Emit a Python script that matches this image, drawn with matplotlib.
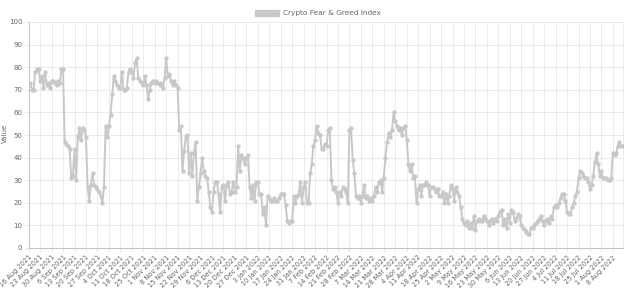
import matplotlib
matplotlib.use("Agg")
import matplotlib.pyplot as plt
from matplotlib.patches import Patch
import numpy as np
import pandas as pd

start_date = "2021-08-16"
series_name = "Crypto Fear & Greed Index"

values = [
    # 16 Aug - 6 Sep 2021
    72, 73, 70, 70, 78, 79, 79, 74, 76, 71, 78, 72, 73, 71, 74, 74, 73, 72, 74, 73, 79, 79,
    # 7 Sep - 20 Sep
    47, 46, 45, 44, 31, 32, 44, 30, 49, 53, 48, 53, 52, 49,
    # 21 Sep - 1 Oct
    27, 21, 28, 33, 28, 27, 26, 25, 23, 20, 27,
    # 2 Oct - 24 Oct
    54, 49, 54, 59, 68, 76, 74, 72, 71, 71, 78, 70, 70, 71, 78, 79, 78, 75, 82, 84, 75, 74, 73,
    # 25 Oct - 15 Nov
    72, 76, 72, 66, 70, 73, 74, 73, 74, 73, 72, 73, 71, 75, 84, 76, 77, 74, 72, 74, 72, 71,
    # 16 Nov - 27 Nov
    52, 54, 34, 43, 49, 50, 33, 42, 32, 42, 47, 21,
    # 28 Nov - 21 Dec
    27, 33, 40, 34, 32, 31, 25, 18, 16, 25, 29, 29, 24, 16, 27, 28, 21, 28, 29, 24, 25, 29, 25, 27,
    # 22 Dec - 28 Dec
    45, 34, 41, 40, 37, 40, 41,
    # 29 Dec - 8 Jan 2022
    27, 22, 28, 21, 29, 29, 24, 24, 15, 18, 10,
    # 9 Jan - 8 Feb
    23, 22, 21, 21, 22, 21, 21, 22, 24, 24, 24, 19, 12, 11, 12, 12, 23, 20, 23, 24,
    29, 20, 27, 29, 20, 20, 33, 37, 45, 48, 54,
    # 9 Feb - 12 Feb
    51, 50, 44, 44,
    # 13 Feb - 15 Apr
    46, 45, 52, 53, 30, 26, 27, 25, 20, 25, 23, 27, 26, 25, 20, 52, 53, 39, 33, 23,
    22, 23, 20, 23, 28, 22, 23, 21, 22, 21, 23, 27, 25, 29, 30, 25, 31, 40, 47, 51,
    49, 52, 60, 56, 54, 52, 53, 50, 53, 54, 48, 37, 34, 37, 31, 32, 20, 26, 28, 23,
    28, 28,
    # 16 Apr - 18 Jun
    29, 28, 23, 27, 27, 26, 25, 26, 23, 23, 25, 20, 24, 20, 23, 28, 26, 21, 27, 25,
    23, 18, 13, 11, 10, 12, 9, 11, 9, 14, 8, 12, 13, 12, 12, 14, 13, 12, 10, 12,
    13, 11, 13, 12, 14, 16, 17, 10, 13, 9, 15, 11, 17, 16, 12, 13, 15, 14, 10, 9,
    8, 7, 6, 6,
    # 19 Jun - 14 Aug
    9, 9, 10, 11, 12, 13, 14, 12, 10, 12, 13, 11, 14, 13, 18, 19, 18, 20, 22, 24,
    24, 21, 16, 15, 15, 18, 20, 23, 25, 31, 34, 33, 32, 31, 31, 29, 26, 28, 32, 38,
    42, 37, 32, 34, 31, 31, 31, 30, 30, 31, 42, 41, 42, 45, 47, 45, 45,
]

dates = pd.date_range(start_date, periods=len(values), freq="D")
labels = [f"{d.day} {d.strftime('%b')} {d.year}" for d in dates]
tick_idx = list(range(0, len(values), 7))
y_ticks = list(range(0, 101, 10))

W, H = 634, 293
fig = plt.figure(figsize=(W / 100, H / 100), dpi=100)
left, right, top, bottom = 28.7, 622.7, 22, 248
ax = fig.add_axes([left / W, 1 - bottom / H, (right - left) / W, (bottom - top) / H])

line_color = "#c8c8c8"
x = np.arange(len(values))
ax.plot(x, values, color=line_color, lw=1.4, marker="o", ms=2.1,
        mfc=line_color, mec=line_color, zorder=3)

ax.set_xlim(0, len(values) - 1)
ax.set_ylim(0, 100)
ax.set_yticks(y_ticks)
ax.set_yticklabels([str(v) for v in y_ticks], fontsize=5, color="#666666")
ax.set_xticks(tick_idx)
ax.set_xticklabels([labels[i] for i in tick_idx], rotation=45, ha="right",
                   rotation_mode="anchor", fontsize=4.8, color="#666666")
ax.tick_params(axis="both", length=3, width=0.6, color="#e4e4e4", pad=1.5)
ax.grid(True, color="#e8e8e8", lw=0.6, zorder=0)
for s in ["top", "right"]:
    ax.spines[s].set_color("#e8e8e8")
    ax.spines[s].set_linewidth(0.6)
for s in ["left", "bottom"]:
    ax.spines[s].set_color("#c4c4c4")
    ax.spines[s].set_linewidth(0.8)

fig.text(2 / W, 1 - 133 / H, "Value", rotation=90, fontsize=5, color="#666666",
         ha="left", va="center")

handle = Patch(facecolor=line_color, edgecolor=line_color)
fig.legend(handles=[handle], labels=[series_name], loc="center",
           bbox_to_anchor=(318 / W, 1 - 13 / H), frameon=False, fontsize=5.3,
           handlelength=3.2, handleheight=0.9, handletextpad=0.5,
           labelcolor="#666666")

fig.savefig("out.png", dpi=100, facecolor="white")
